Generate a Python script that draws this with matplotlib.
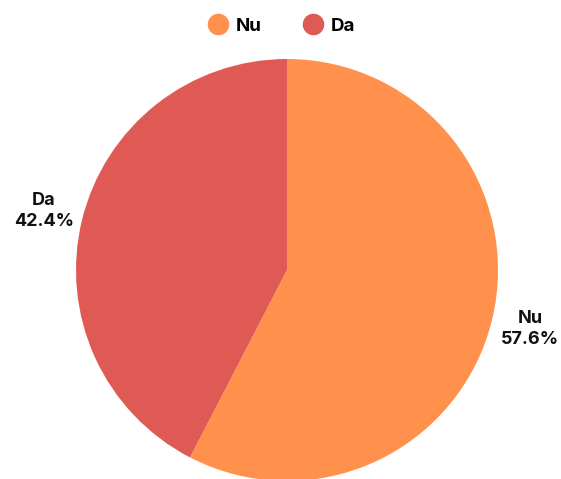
import matplotlib
matplotlib.use("Agg")
import matplotlib.pyplot as plt
from matplotlib.lines import Line2D

labels = ["Nu", "Da"]
values = [57.6, 42.4]
colors = ["#FF914D", "#E05A55"]

plt.rcParams['font.family'] = ['Inter', 'DejaVu Sans']

W, H = 561, 479
fig = plt.figure(figsize=(W / 100, H / 100), dpi=100)
cx, cy, r = 287, 270, 211
ax = fig.add_axes([(cx - r) / W, (H - cy - r) / H, 2 * r / W, 2 * r / H])

texts = [f"{l}\n{v:.1f}%" for l, v in zip(labels, values)]
wedges, t = ax.pie(values, colors=colors, startangle=90, counterclock=False,
                   radius=1, labels=texts, labeldistance=1.185,
                   wedgeprops=dict(linewidth=0),
                   textprops=dict(fontsize=13, fontweight='bold', color='#111111',
                                  ha='center', va='center', linespacing=1.35))
for tx in t:
    tx.set_horizontalalignment('center')
    tx.set_clip_on(False)
ax.set_xlim(-1, 1)
ax.set_ylim(-1, 1)
ax.axis('off')

handles = [Line2D([], [], marker='o', linestyle='', markersize=14.5,
                  markerfacecolor=c, markeredgecolor=c) for c in colors]
fig.legend(handles, labels, loc='center', bbox_to_anchor=(279 / W, 1 - 26 / H),
           ncol=2, frameon=False, handletextpad=0.15, columnspacing=1.9,
           handlelength=1.6, prop=dict(size=13.5, weight='bold'))

fig.savefig("out.png", dpi=100)
